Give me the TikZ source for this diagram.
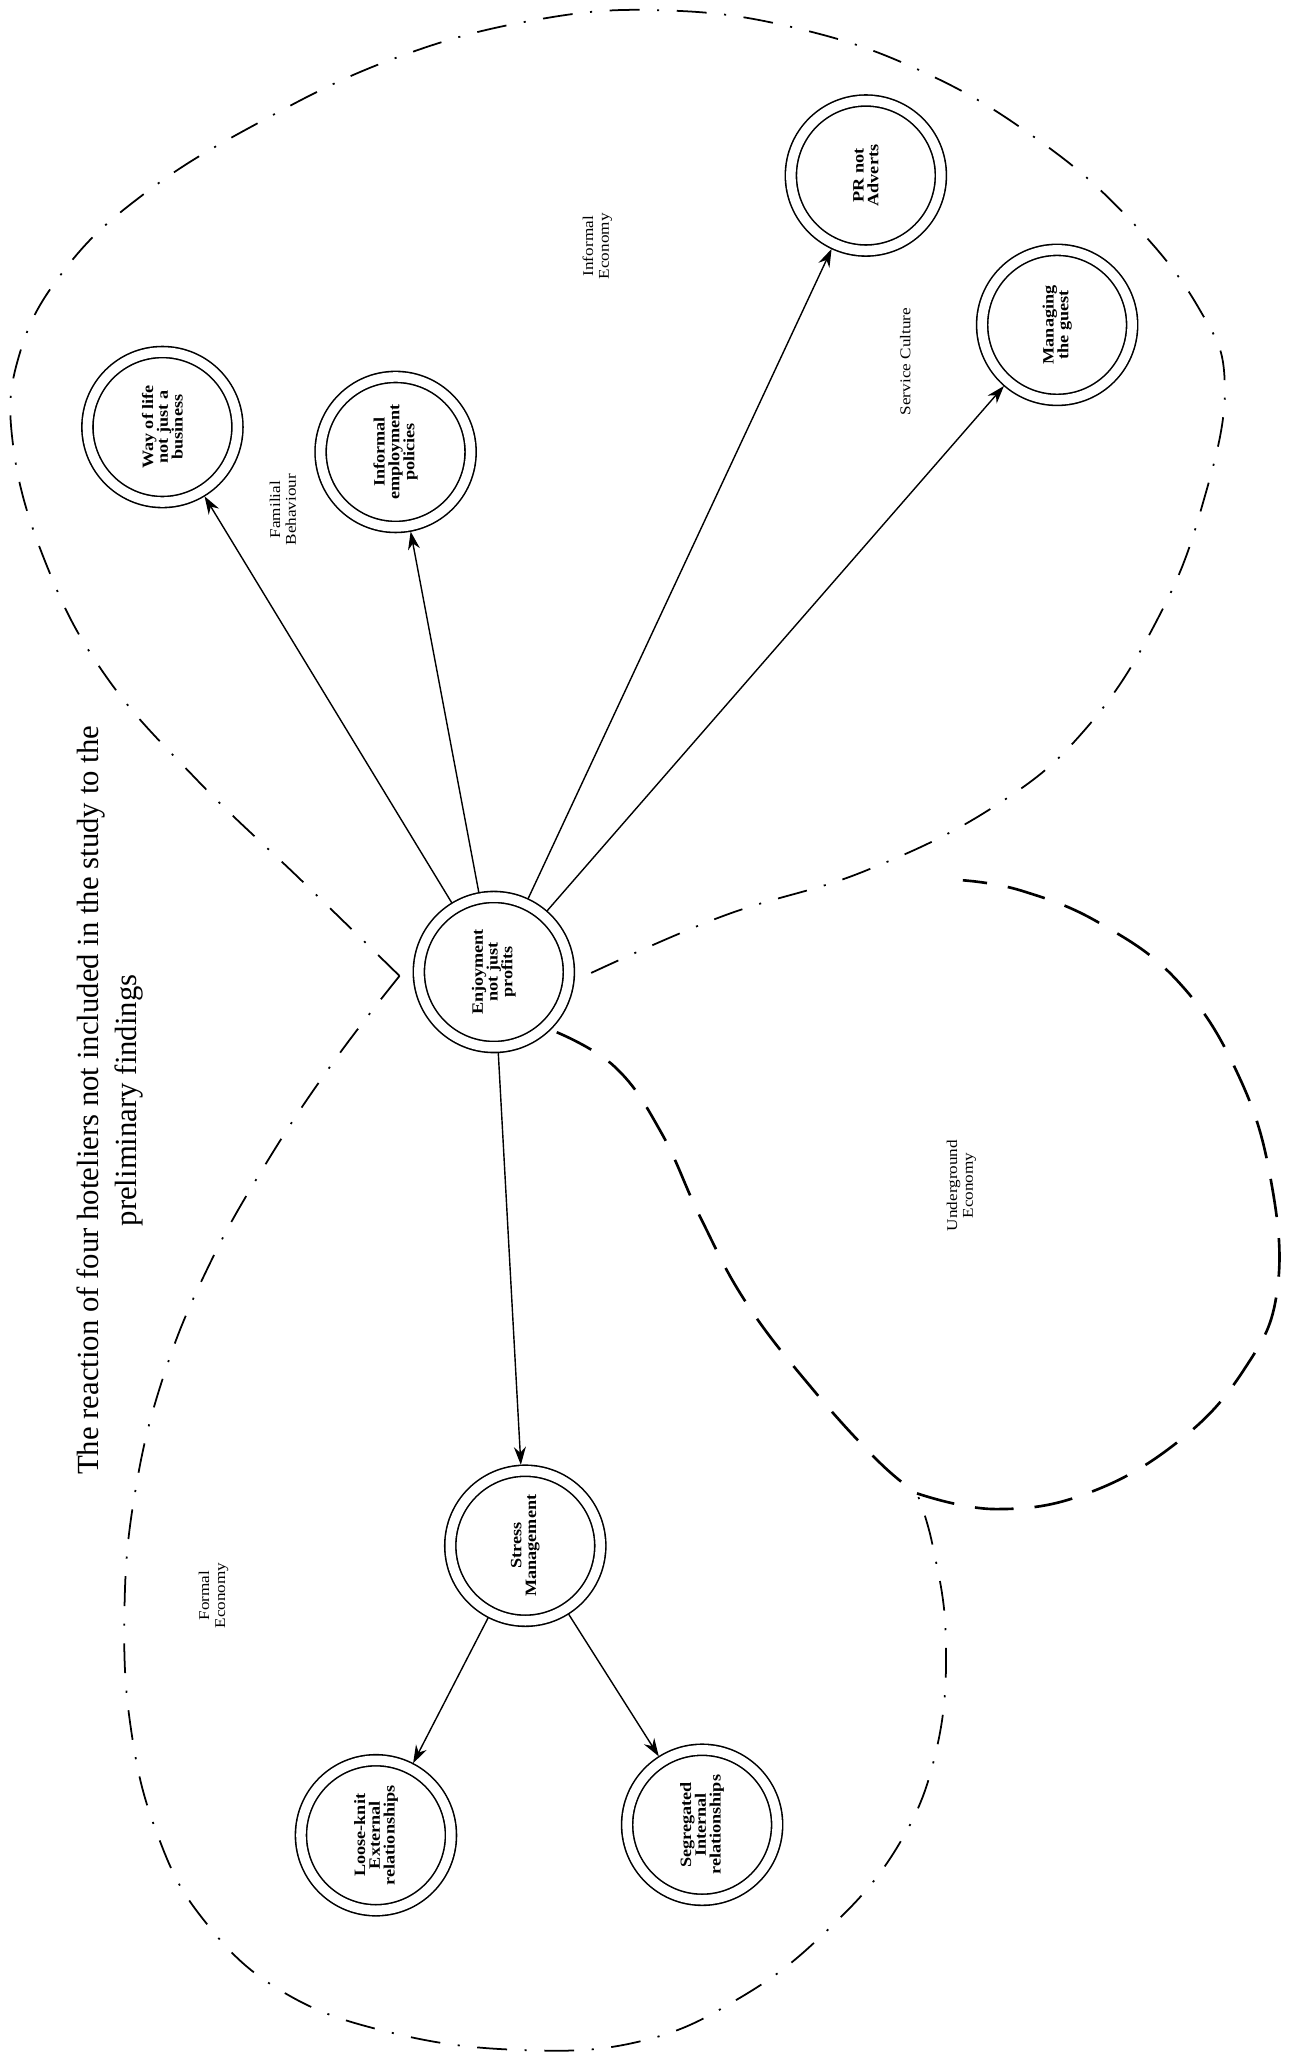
\documentclass[tikz,border=0pt]{standalone}
\usepackage{fontspec}
\setmainfont{Liberation Serif}
\newfontfamily\narrowserif[FakeStretch=1.15]{Liberation Serif}
\usetikzlibrary{arrows.meta}

\begin{document}
\begin{tikzpicture}[
  x=0.026192cm, y=-0.026192cm,
  >={Stealth[length=3.6mm,width=2.4mm]},
  theme/.style={draw, circle, double, fill=white, line width=0.9pt, double distance=0.19cm,
    minimum size=3cm, inner sep=0pt, outer sep=0.12cm, rotate=90, align=center,
    font=\narrowserif\bfseries\fontsize{9}{8.4}\selectfont},
  region/.style={rotate=90, align=center, font=\narrowserif\fontsize{8.5}{9}\selectfont},
  link/.style={->, line width=0.8pt},
  border/.style={line width=1pt, dash pattern=on 17pt off 10pt on 1.2pt off 10pt},
  underground/.style={line width=1.5pt, dash pattern=on 22pt off 12pt}
]
\useasboundingbox (0,0) rectangle (985,1568);

% region boundaries
\draw[border] plot[smooth, tension=0.7] coordinates {(305,745) (230,672) (150,595) (80,515)
  (35,430) (10,340) (15,270) (50,205) (110,148) (195,95) (300,45) (410,15) (510,8) (610,22)
  (705,55) (790,105) (860,165) (915,235) (935,295) (918,385) (885,470) (830,555) (760,615)
  (660,665) (550,700) (440,748)};
\draw[border] plot[smooth, tension=0.7] coordinates {(305,745) (255,810) (205,885) (160,965)
  (125,1050) (103,1140) (95,1230) (100,1320) (120,1400) (155,1465) (215,1520) (300,1552)
  (400,1565) (490,1558) (565,1525) (630,1475) (685,1410) (715,1335) (722,1250) (712,1180)
  (700,1140)};
\draw[underground] plot[smooth, tension=0.7] coordinates {(425,788) (470,815) (505,865)
  (535,930) (570,995) (620,1060) (670,1115) (700,1140)};
\draw[underground] plot[smooth, tension=0.7] coordinates {(700,1140) (760,1152) (830,1140)
  (900,1100) (950,1045) (975,985) (970,900) (945,820) (900,750) (840,705) (780,680) (735,672)};

% title
\node[rotate=90, align=center, font=\fontsize{17.5}{22}\selectfont] (title) at (84,840)
  {The reaction of four hoteliers not included in the study to the\\preliminary findings};

% region names
\node[region] (familial) at (216,389) {Familial\\Behaviour};
\node[region] (informal) at (456,188) {Informal\\Economy};
\node[region] (service) at (691,276) {Service Culture};
\node[region] (underground) at (734,905) {Underground\\Economy};
\node[region] (formal) at (163,1218) {Formal\\Economy};

% themes
\node[theme] (way) at (124,326) {Way of life\\not just a\\business};
\node[theme] (employ) at (302,345) {Informal\\employment\\policies};
\node[theme] (pr) at (661,134) {PR not\\Adverts};
\node[theme] (guest) at (807,248) {Managing\\the guest};
\node[theme] (enjoy) at (377,742) {Enjoyment\\not just\\profits};
\node[theme] (stress) at (401,1180) {Stress\\Management};
\node[theme] (loose) at (287,1401) {Loose-knit\\External\\relationships};
\node[theme] (segr) at (536,1393) {Segregated\\Internal\\relationships};

% links
\draw[link] (enjoy) -- (way);
\draw[link] (enjoy) -- (employ);
\draw[link] (enjoy) -- (pr);
\draw[link] (enjoy) -- (guest);
\draw[link] (enjoy) -- (stress);
\draw[link] (stress) -- (loose);
\draw[link] (stress) -- (segr);

\end{tikzpicture}
\end{document}
